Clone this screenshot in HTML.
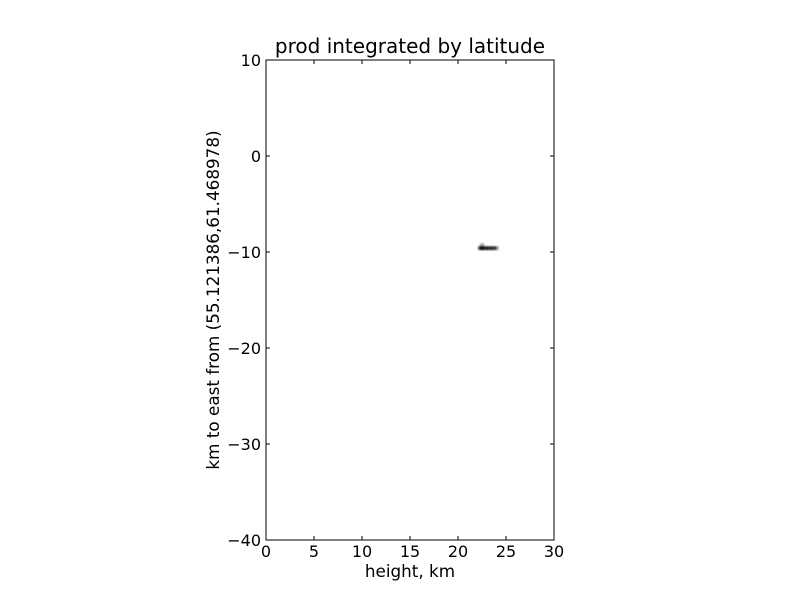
<!DOCTYPE html>
<html><head><style>
body{margin:0;background:#fff;font-family:"DejaVu Sans","Liberation Sans",sans-serif}
</style></head><body>
<svg width="800" height="600" xmlns="http://www.w3.org/2000/svg" font-family="DejaVu Sans, Liberation Sans, sans-serif">
<defs><filter id="bl" x="-50%" y="-50%" width="200%" height="200%"><feGaussianBlur stdDeviation="0.9"/></filter></defs>
<g id="cells" filter="url(#bl)"></g>
<rect x="266" y="60" width="288" height="480" fill="none" stroke="#000" stroke-width="1"/>
<g id="ticks" font-size="16" fill="#000"></g>
<text x="410" y="53" text-anchor="middle" font-size="20">prod integrated by latitude</text>
<text x="410" y="577" text-anchor="middle" font-size="16.8">height, km</text>
<text transform="translate(219,300) rotate(-90)" text-anchor="middle" font-size="16.8">km to east from (55.121386,61.468978)</text>
</svg>
<script>
const xTicks=[0,5,10,15,20,25,30];
const yTicks=[10,0,-10,-20,-30,-40];
const cellX=[22.3,22.5,22.9,23.3,23.7,24.0,22.5];
const cellY=[-9.6,-9.6,-9.6,-9.6,-9.6,-9.6,-9.3];
const cellV=[0.6,0.9,0.85,0.8,0.75,0.45,0.35];
const X=v=>266+(v-0)/30*288, Y=v=>60+(10-v)/50*480;
const ns="http://www.w3.org/2000/svg";
const t=document.getElementById('ticks'), c=document.getElementById('cells');
function el(n,a,p){const e=document.createElementNS(ns,n);for(const k in a)e.setAttribute(k,a[k]);p.appendChild(e);return e;}
xTicks.forEach(v=>{const x=X(v);
 const l=el('path',{d:`M${x},540v-4M${x},60v4`,stroke:'#000'},t);
 
 
 const tx=el('text',{x:x,y:557,'text-anchor':'middle'},t);tx.textContent=v;
 
 });
yTicks.forEach(v=>{const y=Y(v);
 const l=el('path',{d:`M266,${y}h4M554,${y}h-4`,stroke:'#000'},t);
 
 
 const tx=el('text',{x:261,y:y+6,'text-anchor':'end'},t);tx.textContent=v<0?'\u2212'+(-v):v;
 
 });
cellX.forEach((v,i)=>{const w=0.45*9.6,h=0.4*9.6;
 const r=el('rect',{x:X(v)-w/2,y:Y(cellY[i])-h/2,width:w,height:h,fill:'#000','fill-opacity':cellV[i]},c);
 
 });
</script>
</body></html>
